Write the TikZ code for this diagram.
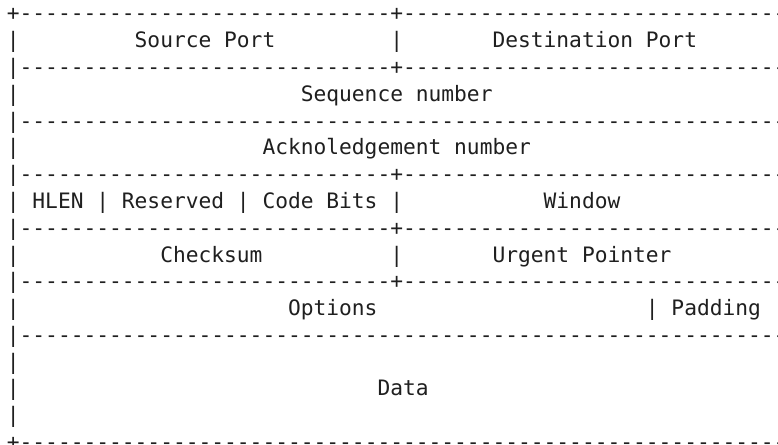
\documentclass[tikz,border=0pt]{standalone}
\usepackage{fontspec}
\setmonofont{DejaVu Sans Mono}
\ExplSyntaxOn
\NewDocumentCommand\hy{m}{\prg_replicate:nn{#1}{-}}
\ExplSyntaxOff
\tikzset{
  txt/.style={anchor=base west, inner sep=0pt, outer sep=0pt,
    font=\ttfamily\fontsize{21.23pt}{26.79pt}\selectfont, text=black!88},
}
\begin{document}
\begin{tikzpicture}
\useasboundingbox (0pt,0pt) rectangle (778pt,-444pt);
\fill[white] (0pt,0pt) rectangle (778pt,-444pt);
\clip (0pt,0pt) rectangle (778pt,-444pt);
\begin{scope}[shift={(6.9pt,-20.9pt)}, x=12.78pt, y=-26.79pt]
% row 0
\node[txt] (r0) at (0,0) {+\hy{29}+\hy{31}};
% row 1
\node[txt] (r1a) at (0,1) {|};
\node[txt] (srcport) at (10,1) {Source Port};
\node[txt] (r1b) at (30,1) {|};
\node[txt] (dstport) at (38,1) {Destination Port};
% row 2
\node[txt] (r2) at (0,2) {|\hy{29}+\hy{31}};
% row 3
\node[txt] (r3a) at (0,3) {|};
\node[txt] (seq) at (23,3) {Sequence number};
% row 4
\node[txt] (r4) at (0,4) {|\hy{61}};
% row 5
\node[txt] (r5a) at (0,5) {|};
\node[txt] (ack) at (20,5) {Acknoledgement number};
% row 6
\node[txt] (r6) at (0,6) {|\hy{29}+\hy{31}};
% row 7
\node[txt] (r7a) at (0,7) {|};
\node[txt] (hlen) at (2,7) {HLEN};
\node[txt] (r7b) at (7,7) {|};
\node[txt] (resv) at (9,7) {Reserved};
\node[txt] (r7c) at (18,7) {|};
\node[txt] (code) at (20,7) {Code Bits};
\node[txt] (r7d) at (30,7) {|};
\node[txt] (win) at (42,7) {Window};
% row 8
\node[txt] (r8) at (0,8) {|\hy{29}+\hy{31}};
% row 9
\node[txt] (r9a) at (0,9) {|};
\node[txt] (chk) at (12,9) {Checksum};
\node[txt] (r9b) at (30,9) {|};
\node[txt] (urg) at (38,9) {Urgent Pointer};
% row 10
\node[txt] (r10) at (0,10) {|\hy{29}+\hy{31}};
% row 11
\node[txt] (r11a) at (0,11) {|};
\node[txt] (opt) at (22,11) {Options};
\node[txt] (r11b) at (50,11) {|};
\node[txt] (pad) at (52,11) {Padding};
% row 12
\node[txt] (r12) at (0,12) {|\hy{61}};
% rows 13-15
\node[txt] (r13) at (0,13) {|};
\node[txt] (r14) at (0,14) {|};
\node[txt] (data) at (29,14) {Data};
\node[txt] (r15) at (0,15) {|};
% row 16
\node[txt] (r16) at (0,16) {+\hy{61}};
\end{scope}
\end{tikzpicture}
\end{document}
